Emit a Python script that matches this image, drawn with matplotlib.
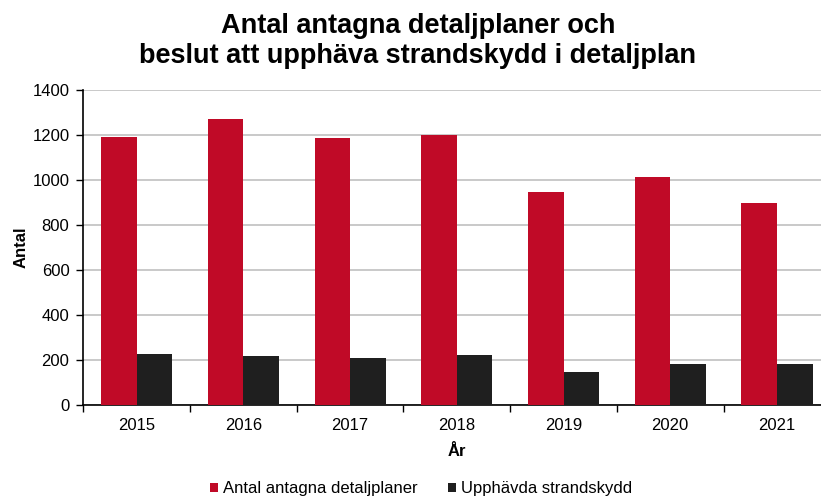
import matplotlib
matplotlib.use("Agg")
import matplotlib.pyplot as plt
import numpy as np

years = ["2015", "2016", "2017", "2018", "2019", "2020", "2021"]
antagna = [1191, 1270, 1185, 1201, 945, 1013, 896]
upphavda = [227, 216, 210, 222, 145, 181, 184]
yticks = [0, 200, 400, 600, 800, 1000, 1200, 1400]
title_lines = ["Antal antagna detaljplaner och",
               "beslut att upphäva strandskydd i detaljplan"]

plt.rcParams['font.family'] = ['Liberation Sans', 'DejaVu Sans']

fig = plt.figure(figsize=(8.21, 4.97), dpi=100)
ax = fig.add_axes([83.3/821, 92/497, (830.3-83.3)/821, 315/497])

x = np.arange(len(years))
w = 1/3
ax.bar(x - w/2, antagna, width=w, color='#C00A27', label='Antal antagna detaljplaner', zorder=3)
ax.bar(x + w/2, upphavda, width=w, color='#1F1F1F', label='Upphävda strandskydd', zorder=3)

ax.set_xlim(-0.5, len(years) - 0.5)
ax.set_ylim(0, 1400)
ax.set_yticks(yticks)
ax.set_yticklabels([str(v) for v in yticks], fontsize=12)
ax.yaxis.grid(True, color='#C0C0C0', linewidth=1.2, zorder=0)
ax.set_axisbelow(True)

ax.set_xticks(np.arange(-0.5, len(years), 1.0))
ax.set_xticklabels([])
ax.set_xticks(x, minor=True)
ax.set_xticklabels(years, minor=True, fontsize=12)
ax.tick_params(axis='x', which='major', direction='out', length=5, width=1)
ax.tick_params(axis='x', which='minor', length=0, pad=9)
ax.tick_params(axis='y', direction='out', length=5, width=1, pad=5)

for s in ['top', 'right']:
    ax.spines[s].set_visible(False)
for s in ['left', 'bottom']:
    ax.spines[s].set_linewidth(1.2)
    ax.spines[s].set_color('black')

ax.set_ylabel('Antal', fontsize=12, fontweight='bold', labelpad=3)
ax.set_xlabel('År', fontsize=12, fontweight='bold', labelpad=8)

fig.text(0.509, 1 - 33/497, title_lines[0], ha='center', va='baseline',
         fontsize=19.5, fontweight='bold')
fig.text(0.509, 1 - 63/497, title_lines[1], ha='center', va='baseline',
         fontsize=19.5, fontweight='bold')

fig.legend(loc='center', bbox_to_anchor=(0.513, 1 - 489/497), ncol=2, frameon=False,
           fontsize=12, handlelength=0.5, handleheight=0.5, handletextpad=0.3,
           columnspacing=1.8, borderpad=0)

fig.savefig('out.png', dpi=100)
